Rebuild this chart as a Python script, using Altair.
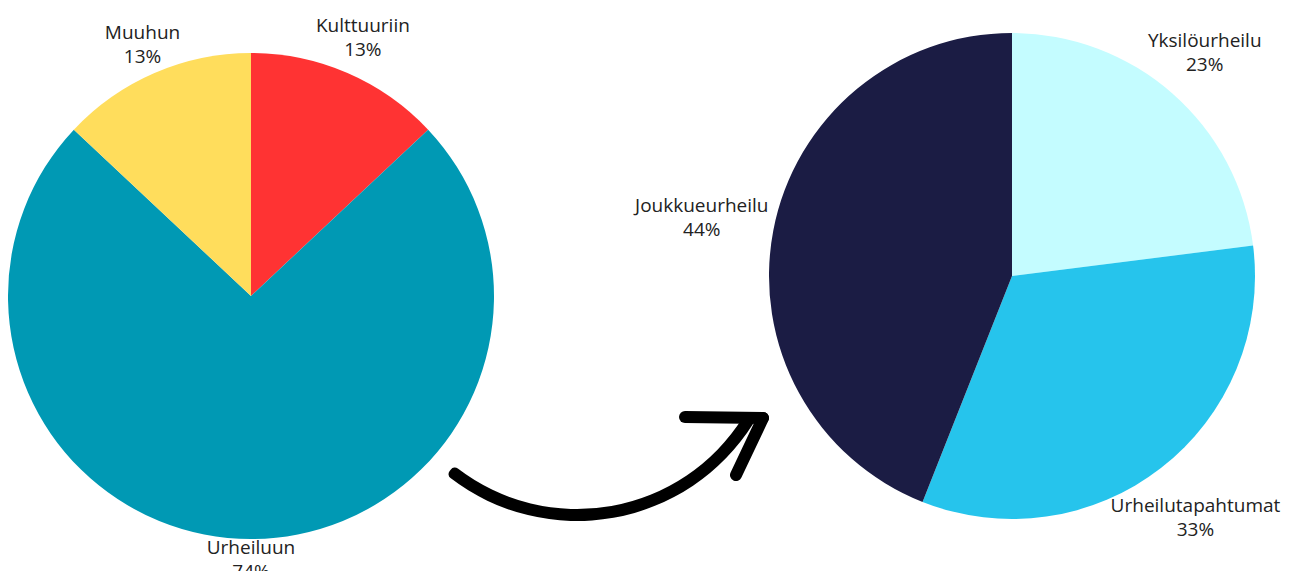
import altair as alt
import pandas as pd

# ---- data ----
left_categories = ["Kulttuuriin", "Urheiluun", "Muuhun"]
left_values = [13, 74, 13]
right_categories = ["Yksilöurheilu", "Urheilutapahtumat", "Joukkueurheilu"]
right_values = [23, 33, 44]

all_categories = left_categories + right_categories
palette = ["#FF3333", "#0099B4", "#FFDD5C", "#C4FCFF", "#26C4EC", "#1B1C44"]

df_left = pd.DataFrame({"cat": left_categories, "val": left_values,
                        "idx": list(range(len(left_values)))})
df_right = pd.DataFrame({"cat": right_categories, "val": right_values,
                         "idx": list(range(len(right_values)))})

color_scale = alt.Scale(domain=all_categories, range=palette)
FONT = "Open Sans"
R = 243


def pie(df, cx, cy, dx=0):
    base = alt.Chart(df)
    arcs = base.mark_arc(radius=R, stroke=None).encode(
        theta=alt.Theta("val:Q", stack=True),
        color=alt.Color("cat:N", scale=color_scale, legend=None),
        order=alt.Order("idx:Q"),
        x=alt.value(cx),
        y=alt.value(cy),
    )
    labels = (
        base.transform_joinaggregate(total="sum(val)")
        .transform_window(cum="sum(val)", sort=[alt.SortField("idx")], frame=[None, 0])
        .transform_calculate(
            mid="(datum.cum - datum.val/2)/datum.total*2*PI",
        )
        .transform_calculate(
            lr="250 + 4.3*length(datum.cat)*abs(sin(datum.mid)) + 14*abs(cos(datum.mid))",
            label="[datum.cat, datum.val + '%']",
        )
        .mark_text(font=FONT, fontSize=19, lineHeight=24, color="#222222",
                   align="center", baseline="middle", dy=-12, dx=dx)
        .encode(
            theta=alt.Theta("mid:Q", scale=None),
            radius=alt.Radius("lr:Q", scale=None),
            text="label:N",
            x=alt.value(cx),
            y=alt.value(cy),
        )
    )
    return arcs + labels


left = pie(df_left, 243, 288)
right = pie(df_right, 1004, 268, dx=-4)

# decorative curved arrow between the pies
anchor = pd.DataFrame({"a": [0]})
arrow_body = alt.Chart(anchor).mark_arc(
    color="black", theta=2.11, theta2=3.82, radius=208, radius2=196, cornerRadius=5
).encode(x=alt.value(569), y=alt.value(305))
barb1 = alt.Chart(anchor).mark_rule(color="black", strokeWidth=12, strokeCap="round").encode(
    x=alt.value(755), y=alt.value(410), x2=alt.value(677), y2=alt.value(409))
barb2 = alt.Chart(anchor).mark_rule(color="black", strokeWidth=12, strokeCap="round").encode(
    x=alt.value(755), y=alt.value(410), x2=alt.value(728), y2=alt.value(467))

chart = (
    alt.layer(left, right, arrow_body, barb1, barb2)
    .properties(width=1273, height=563, padding=0,
                autosize=alt.AutoSizeParams(type="fit", contains="padding"))
    .configure_view(strokeWidth=0)
)

chart.save("out.html", embed_options={"renderer": "svg", "actions": False})
